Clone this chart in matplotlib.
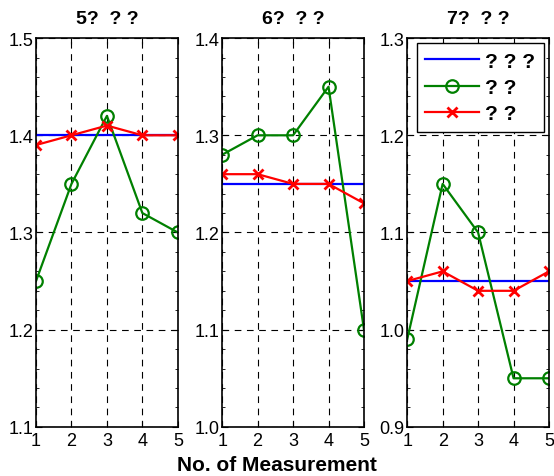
import numpy as np
import matplotlib.pyplot as plt
from matplotlib.ticker import MultipleLocator, FormatStrFormatter

plt.rcParams['font.family'] = ['Liberation Sans', 'DejaVu Sans']

# measurement number
x = [1, 2, 3, 4, 5]

titles = ['5?  ? ?', '6?  ? ?', '7?  ? ?']
labels = ['? ? ?', '? ?', '? ?']
ylims = [(1.1, 1.5), (1.0, 1.4), (0.9, 1.3)]

# reference value (blue), two methods (green circles, red crosses)
ref_1 = [1.40, 1.40, 1.40, 1.40, 1.40]
green_1 = [1.25, 1.35, 1.42, 1.32, 1.30]
red_1 = [1.39, 1.40, 1.41, 1.40, 1.40]

ref_2 = [1.25, 1.25, 1.25, 1.25, 1.25]
green_2 = [1.28, 1.30, 1.30, 1.35, 1.10]
red_2 = [1.26, 1.26, 1.25, 1.25, 1.23]

ref_3 = [1.05, 1.05, 1.05, 1.05, 1.05]
green_3 = [0.99, 1.15, 1.10, 0.95, 0.95]
red_3 = [1.05, 1.06, 1.04, 1.04, 1.06]

refs = [ref_1, ref_2, ref_3]
greens = [green_1, green_2, green_3]
reds = [red_1, red_2, red_3]

fig = plt.figure(figsize=(5.54, 4.77), dpi=100)
lefts = [0.065, 0.401, 0.735]

for i in range(3):
    ax = fig.add_axes([lefts[i], 0.103, 0.256, 0.815])
    ax.plot(x, refs[i], color='blue', lw=1.6, label=labels[0])
    ax.plot(x, greens[i], color='green', lw=1.6, marker='o', ms=9,
            mfc='none', mew=1.6, label=labels[1])
    ax.plot(x, reds[i], color='red', lw=1.6, marker='x', ms=7,
            mew=2, label=labels[2])
    ax.set_xlim(1, 5)
    ax.set_ylim(*ylims[i])
    ax.set_xticks(x)
    ax.yaxis.set_major_locator(MultipleLocator(0.1))
    ax.yaxis.set_minor_locator(MultipleLocator(0.02))
    ax.yaxis.set_major_formatter(FormatStrFormatter('%.1f'))
    ax.tick_params(direction='in', top=True, right=True, labelsize=13, length=4)
    ax.tick_params(axis='x', pad=4)
    ax.tick_params(axis='y', pad=2)
    ax.tick_params(which='minor', direction='in', right=True, left=True, length=2)
    ax.grid(True, which='major', color='black', ls=(0, (6, 5)), lw=0.8)
    for s in ax.spines.values():
        s.set_linewidth(1.2)
    ax.set_title(titles[i], fontsize=14, fontweight='bold', pad=11)
    if i == 2:
        leg = ax.legend(loc='upper right', prop={'weight': 'bold', 'size': 15},
                        fancybox=False, edgecolor='black', framealpha=1,
                        borderaxespad=0.25, handlelength=2.6, handletextpad=0.3,
                        labelspacing=0.35, borderpad=0.4)
        leg.get_frame().set_linewidth(1)

fig.text(0.5, 0.013, 'No. of Measurement', ha='center', fontsize=15, fontweight='bold')
fig.savefig('out.png', dpi=100)
